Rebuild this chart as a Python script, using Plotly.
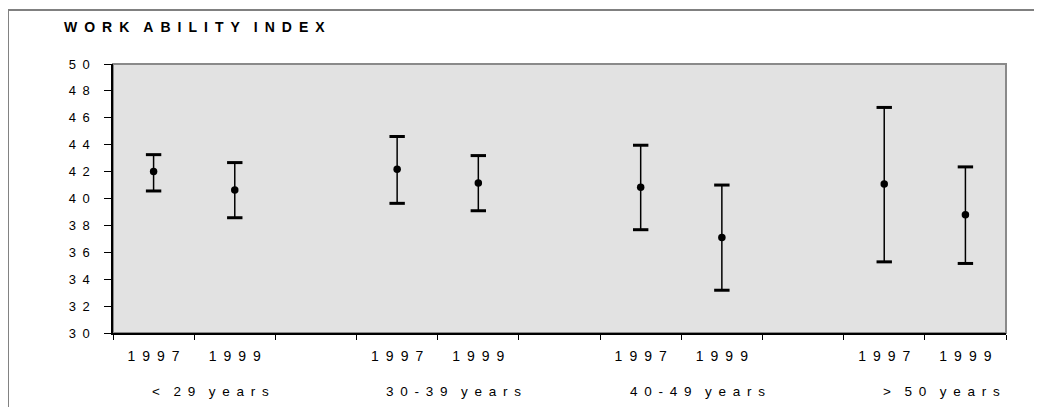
import plotly.graph_objects as go

# ---- data ----
groups = ["< 29 years", "30-39 years", "40-49 years", "> 50 years"]
years = ["1997", "1999"]
mean_vals = [42.0, 40.63, 42.17, 41.15, 40.83, 37.1, 41.08, 38.8]
lower_vals = [40.56, 38.57, 39.64, 39.09, 37.68, 33.18, 35.29, 35.17]
upper_vals = [43.26, 42.67, 44.61, 43.19, 43.96, 41.0, 46.77, 42.35]
y_ticks = [30, 32, 34, 36, 38, 40, 42, 44, 46, 48, 50]
title_text = "WORK ABILITY INDEX"

FONT = "Arial, Liberation Sans, Helvetica, sans-serif"


def spaced(s):
    # reproduce the letter-spaced look of the source
    return "\u2003".join("\u2002".join(w) for w in s.split(" "))


# category slots: two years per group, one empty slot between groups
xs, xlabels = [], []
slot = 0
for gi, g in enumerate(groups):
    for y in years:
        xs.append(slot)
        xlabels.append(spaced(y))
        slot += 1
    if gi < len(groups) - 1:
        slot += 1
n_slots = slot
group_centers = [(xs[2 * i] + xs[2 * i + 1]) / 2 for i in range(len(groups))]

err_plus = [u - m for u, m in zip(upper_vals, mean_vals)]
err_minus = [m - l for m, l in zip(mean_vals, lower_vals)]

fig = go.Figure()
fig.add_trace(go.Scatter(
    x=xs, y=mean_vals, mode="markers",
    marker=dict(color="black", size=7.5, symbol="circle"),
    error_y=dict(type="data", symmetric=False, array=err_plus, arrayminus=err_minus,
                 color="black", thickness=1.5, width=0),
    showlegend=False, hoverinfo="y",
))
fig.add_trace(go.Scatter(
    x=xs + xs, y=upper_vals + lower_vals, mode="markers",
    marker=dict(symbol="line-ew", size=11, line=dict(color="black", width=3)),
    showlegend=False, hoverinfo="y",
))

xr = [-0.5, n_slots - 0.5]
yr = [y_ticks[0], y_ticks[-1]]
boundaries = [i - 0.5 for i in range(n_slots + 1)]

fig.update_layout(
    width=1034, height=399,
    margin=dict(l=105, r=36, t=56, b=74),
    paper_bgcolor="white",
    plot_bgcolor="#e2e2e2",
    font=dict(family=FONT, size=13, color="black"),
    xaxis=dict(
        range=xr, tickmode="array", tickvals=xs, ticktext=xlabels,
        ticks="", showgrid=False, zeroline=False,
        showline=True, linecolor="black", linewidth=1.5,
        ticklabelstandoff=9,
        tickfont=dict(family=FONT, size=14, color="black"),
        minor=dict(tickmode="array", tickvals=boundaries, ticks="outside",
                   ticklen=5, tickwidth=1, tickcolor="black", showgrid=False),
    ),
    xaxis2=dict(
        range=xr, overlaying="x", anchor="y", side="bottom",
        tickmode="array", tickvals=boundaries, ticks="inside", ticklen=5,
        tickwidth=1, tickcolor="black", showticklabels=False,
        showgrid=False, zeroline=False, showline=False,
    ),
    yaxis=dict(
        range=yr, tickmode="array", tickvals=y_ticks,
        ticktext=[spaced(str(v)) for v in y_ticks],
        ticks="outside", ticklen=7, tickwidth=1, tickcolor="black",
        showgrid=False, zeroline=False,
        showline=True, linecolor="black", linewidth=1.5,
        ticklabelstandoff=12,
        tickfont=dict(family=FONT, size=13, color="black"),
    ),
    yaxis2=dict(
        range=yr, overlaying="y", anchor="x", side="left",
        tickmode="array", tickvals=y_ticks, ticks="inside", ticklen=7,
        tickwidth=1, tickcolor="black", showticklabels=False,
        showgrid=False, zeroline=False, showline=False,
    ),
    shapes=[
        # plot-area border (top/right gray)
        dict(type="rect", xref="paper", yref="paper", x0=0, x1=1, y0=0, y1=1,
             line=dict(color="#8a8a8a", width=2), fillcolor="rgba(0,0,0,0)", layer="below"),
        # outer chart frame
        dict(type="rect", xref="paper", yref="paper", x0=-0.1176, x1=1.2, y0=-0.5, y1=1.2007,
             line=dict(color="#808080", width=2), fillcolor="rgba(0,0,0,0)", layer="below"),
    ],
)

annotations = [dict(
    text="<b>" + spaced(title_text) + "</b>", xref="paper", yref="paper",
    x=-0.057, y=1.1375, xanchor="left", yanchor="middle", showarrow=False,
    font=dict(family=FONT, size=14, color="black"),
)]
for g, c in zip(groups, group_centers):
    annotations.append(dict(
        text=spaced(g), xref="x", yref="paper", x=c + 0.2, y=-0.219,
        xanchor="center", yanchor="middle", showarrow=False,
        font=dict(family=FONT, size=13.5, color="black"),
    ))
fig.update_layout(annotations=annotations)

fig.write_html("out.html")
